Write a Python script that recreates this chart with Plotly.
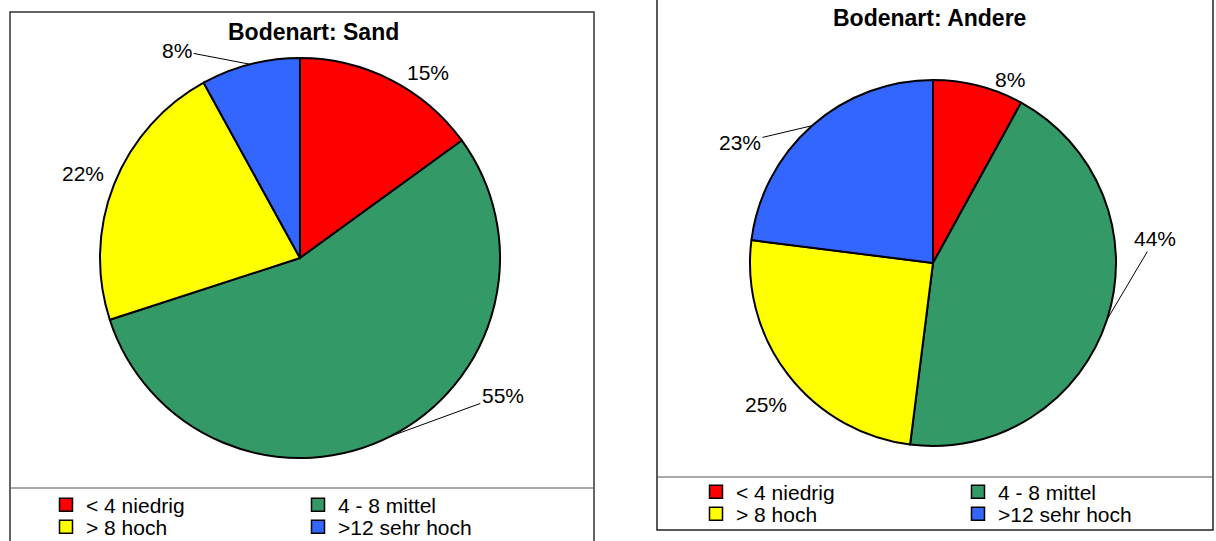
import math
import plotly.graph_objects as go

W, H = 1216, 541

# ---- data ----
categories = ["< 4 niedrig", "4 - 8 mittel", "> 8 hoch", ">12 sehr hoch"]
colors = ["#FF0000", "#339966", "#FFFF00", "#3366FF"]
sand_values = [15, 55, 22, 8]
andere_values = [8, 44, 25, 23]
titles = ["Bodenart: Sand", "Bodenart: Andere"]

# ---- layout / style (pixels) ----
FONT = "Liberation Sans, Arial, sans-serif"
pies = [
    dict(values=sand_values, cx=300, cy=258, r=200, title=titles[0], tx=313, ty=32,
         # label offsets from slice-edge midpoint (dx, dy, leader line?)
         offsets=[(37, -7, False), (112, -41, True), (-31, -11, False), (-73, -14, True)],
         legend_x=46, legend_rows=[505, 527], entry=207),
    dict(values=andere_values, cx=933, cy=263, r=183, title=titles[1], tx=929, ty=18,
         offsets=[(31, -6, False), (48, -81, True), (-22, 29, False), (-72, 17, True)],
         legend_x=696, legend_rows=[492, 514], entry=217),
]


def px(x):
    return x / W


def py(y):
    return 1 - y / H


fig = go.Figure()
annotations = []
layout_legends = {}
legend_idx = 0

for p in pies:
    vals = p["values"]
    fig.add_trace(go.Pie(
        labels=categories, values=vals, sort=False, direction="clockwise",
        marker=dict(colors=colors, line=dict(color="black", width=2)),
        textinfo="none", showlegend=False, hoverinfo="label+percent",
        domain=dict(x=[px(p["cx"] - p["r"]), px(p["cx"] + p["r"])],
                    y=[py(p["cy"] + p["r"]), py(p["cy"] - p["r"])]),
    ))
    total = float(sum(vals))
    cum = 0.0
    for v, (dx, dy, leader) in zip(vals, p["offsets"]):
        theta = 2 * math.pi * (cum + v / 2.0) / total
        cum += v
        ex = p["cx"] + p["r"] * math.sin(theta)
        ey = p["cy"] - p["r"] * math.cos(theta)
        txt = f"{round(100 * v / total):d}%"
        if leader:
            annotations.append(dict(
                text=txt, x=px(ex), y=py(ey), xref="paper", yref="paper",
                showarrow=True, ax=dx, ay=dy, arrowhead=0, arrowwidth=1,
                arrowcolor="black", standoff=0,
                font=dict(family=FONT, size=21, color="black")))
        else:
            annotations.append(dict(
                text=txt, x=px(ex), y=py(ey), xref="paper", yref="paper",
                showarrow=False, xshift=dx, yshift=-dy,
                xanchor="center", yanchor="middle",
                font=dict(family=FONT, size=21, color="black")))
    annotations.append(dict(
        text="<b>" + p["title"] + "</b>", x=px(p["tx"]), y=py(p["ty"]),
        xref="paper", yref="paper", xanchor="center", yanchor="middle",
        showarrow=False, font=dict(family=FONT, size=23, color="black")))

    # legend: two rows of two entries, each row its own legend
    for row, ry in enumerate(p["legend_rows"]):
        legend_idx += 1
        lname = "legend" if legend_idx == 1 else f"legend{legend_idx}"
        for i in range(row * 2, row * 2 + 2):
            fig.add_trace(go.Scatter(
                x=[None], y=[None], mode="markers", name=categories[i],
                marker=dict(symbol="square", size=13, color=colors[i],
                            line=dict(color="black", width=1.5)),
                legend=lname, hoverinfo="skip",
            ))
        layout_legends[lname] = dict(
            orientation="h", x=px(p["legend_x"]), y=py(ry), xanchor="left", yanchor="middle",
            entrywidth=p["entry"], entrywidthmode="pixels",
            font=dict(family=FONT, size=21, color="black"),
            bgcolor="rgba(0,0,0,0)", borderwidth=0,
            itemclick=False, itemdoubleclick=False)

shapes = [
    dict(type="rect", xref="paper", yref="paper", x0=px(10), x1=px(594), y0=py(560), y1=py(12),
         line=dict(color="#333333", width=1.5)),
    dict(type="line", xref="paper", yref="paper", x0=px(11), x1=px(593), y0=py(488), y1=py(488),
         line=dict(color="#555555", width=1)),
    dict(type="rect", xref="paper", yref="paper", x0=px(657), x1=px(1213), y0=py(530), y1=py(-5),
         line=dict(color="#222222", width=1.5)),
    dict(type="line", xref="paper", yref="paper", x0=px(658), x1=px(1212), y0=py(477), y1=py(477),
         line=dict(color="#555555", width=1)),
]

fig.update_layout(
    width=W, height=H,
    margin=dict(l=0, r=0, t=0, b=0, autoexpand=False),
    paper_bgcolor="white", plot_bgcolor="white",
    xaxis=dict(visible=False), yaxis=dict(visible=False),
    shapes=shapes, annotations=annotations,
    showlegend=True,
    **layout_legends,
)

fig.write_html("out.html")
